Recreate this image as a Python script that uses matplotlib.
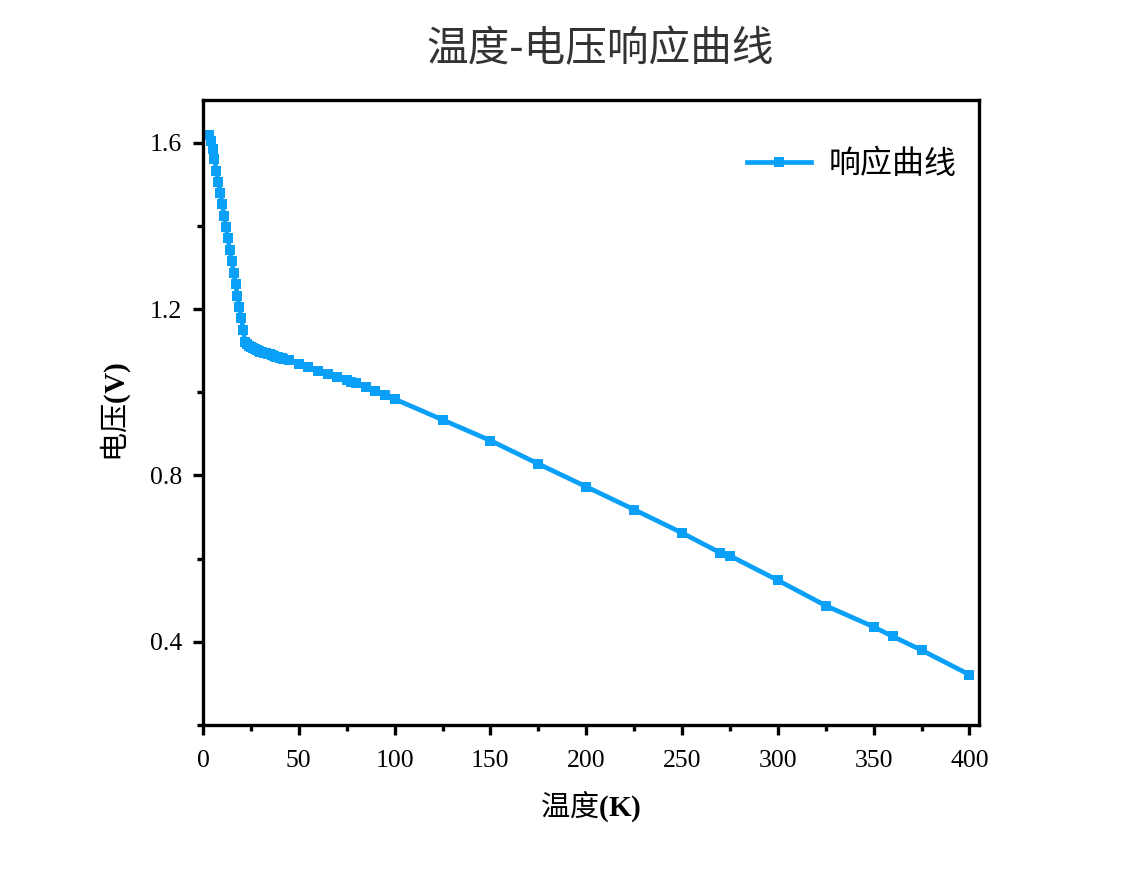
import matplotlib
matplotlib.use("Agg")
import matplotlib.pyplot as plt
from matplotlib.ticker import MultipleLocator

plt.rcParams['font.family'] = ['Liberation Serif', 'Noto Sans CJK SC', 'DejaVu Sans']
plt.rcParams['mathtext.fontset'] = 'custom'
plt.rcParams['mathtext.bf'] = 'Liberation Serif:bold'
plt.rcParams['mathtext.rm'] = 'Noto Sans CJK SC'

temperature = [3, 4, 5, 6, 7, 8, 9, 10, 11, 12, 13, 14, 15, 16, 17, 18, 19, 20, 21,
               22, 23, 24, 25, 26, 27, 28, 29, 30, 31, 32, 33, 34, 35, 36, 37, 38, 39, 40, 41, 42,
               45, 50, 55, 60, 65, 70, 75, 77, 80, 85, 90, 95, 100,
               125, 150, 175, 200, 225, 250, 270, 275, 300, 325, 350, 360, 375, 400]
voltage = [1.620, 1.605, 1.585, 1.560, 1.533, 1.507, 1.480, 1.452, 1.425, 1.398, 1.370,
           1.342, 1.315, 1.288, 1.260, 1.232, 1.205, 1.178, 1.150,
           1.122, 1.116, 1.112, 1.109, 1.106, 1.104, 1.102, 1.100, 1.098, 1.097, 1.095,
           1.094, 1.092, 1.091, 1.089, 1.088, 1.086, 1.085, 1.083, 1.082, 1.080,
           1.077, 1.068, 1.061, 1.052, 1.045, 1.038, 1.029, 1.025, 1.022, 1.014, 1.004, 0.994, 0.984,
           0.934, 0.884, 0.828, 0.773, 0.718, 0.662, 0.614, 0.607, 0.548, 0.487, 0.436, 0.413, 0.380, 0.321]

title_text = '温度-电压响应曲线'
x_label = '$\\mathrm{温度}\\mathbf{(K)}$'
y_label = '$\\mathrm{电压}\\mathbf{(V)}$'
series_name = '响应曲线'
y_ticks = [0.4, 0.8, 1.2, 1.6]
y_tick_labels = ['0.4', '0.8', '1.2', '1.6']

fig = plt.figure(figsize=(11.39, 8.71), dpi=100)
ax = fig.add_axes([203/1139, 1 - 725/871, (979-203)/1139, (725-100)/871])

color = '#0AA0F8'
ax.plot(temperature, voltage, color=color, linewidth=3.4, marker='s',
        markersize=7, markeredgewidth=0, label=series_name)

ax.set_xlim(0, 405)
ax.set_ylim(0.2, 1.703)
ax.xaxis.set_major_locator(MultipleLocator(50))
ax.xaxis.set_minor_locator(MultipleLocator(25))
ax.yaxis.set_minor_locator(MultipleLocator(0.2))
ax.set_yticks(y_ticks)
ax.set_yticklabels(y_tick_labels)

for s in ax.spines.values():
    s.set_linewidth(2.4)
ax.tick_params(which='major', direction='out', length=7, width=2.4, labelsize=18.5, pad=8)
ax.tick_params(axis='x', which='major', pad=11)
ax.tick_params(which='minor', direction='out', length=4, width=2.4)

ax.set_xlabel(x_label, fontsize=21, labelpad=12)
ax.set_ylabel(y_label, fontsize=21, labelpad=12)

leg = ax.legend(loc='upper right', frameon=False, fontsize=23, handlelength=2.0,
                handletextpad=0.55, bbox_to_anchor=(1.008, 0.967))

fig.text(600/1139, 1 - 50/871, title_text, ha='center', va='center',
         fontsize=30, color='#333333', family=['Noto Sans CJK SC'])

fig.savefig('out.png', dpi=100)
